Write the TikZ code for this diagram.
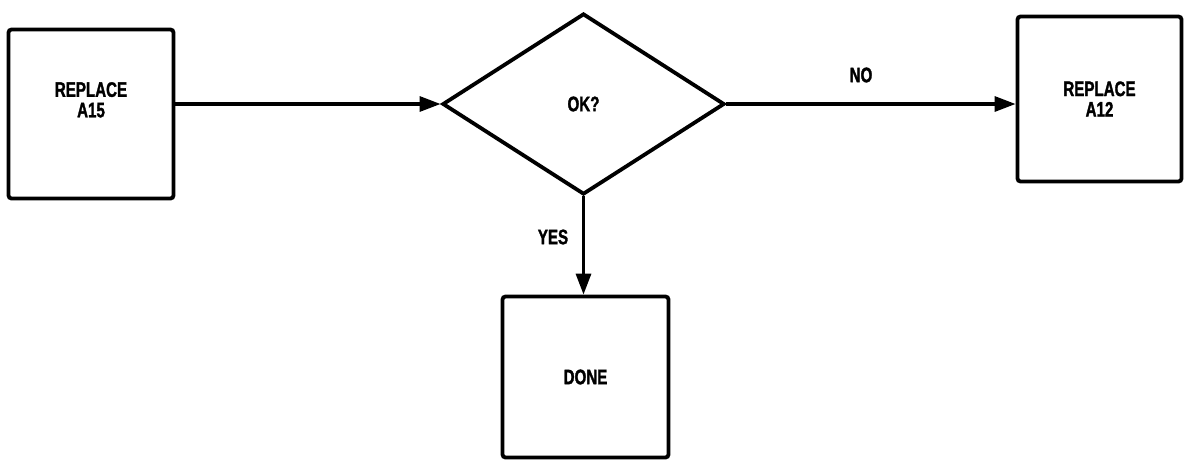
\documentclass[tikz,border=0pt]{standalone}
\usepackage{fontspec}
\newfontfamily\lblfont{Liberation Sans}[FakeStretch=0.72,FakeBold=1.5]
\usetikzlibrary{shapes.geometric,arrows.meta}
\tikzset{
  lbl/.style={font=\lblfont\bfseries\fontsize{21}{20.5}\selectfont, align=center, inner sep=0pt},
  stepbox/.style={lbl, draw, line width=3.8pt, rounded corners=3pt},
  decision/.style={lbl, draw, diamond, line width=3.8pt, inner sep=0pt},
  arr/.style={line width=3.2pt, -{Triangle[length=21pt,width=15pt]}}
}
\begin{document}
\begin{tikzpicture}[x=1pt,y=-1pt]
\useasboundingbox (0,0) rectangle (1186,461);
\node[stepbox, minimum width=165pt, minimum height=169pt] (a15) at (91,114) {REPLACE\\A15\\[8pt]};
\node[decision, minimum width=282pt, minimum height=181pt] (ok) at (583.5,104) {OK?};
\node[stepbox, minimum width=164pt, minimum height=165pt] (a12) at (1099.5,99) {REPLACE\\A12};
\node[stepbox, minimum width=166pt, minimum height=161pt] (done) at (585.5,377) {DONE};
\draw[arr] (a15.east |- ok.west) -- (ok.west);
\draw[arr] (ok.east) -- (ok.east -| a12.west);
\draw[arr] (ok.south) -- (ok.south |- done.north);
\node[lbl] (no) at (861,75) {NO};
\node[lbl] (yes) at (553,237) {YES};
\end{tikzpicture}
\end{document}
